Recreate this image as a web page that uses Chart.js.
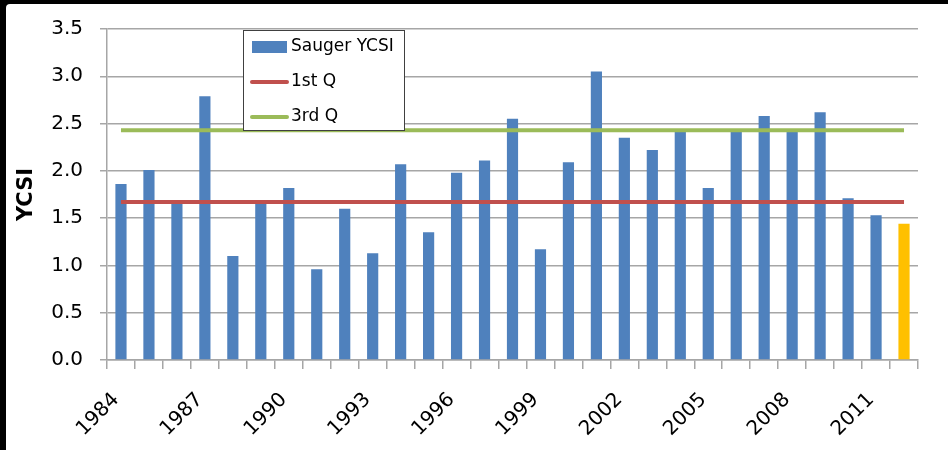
<!DOCTYPE html>
<html>
<head>
<meta charset="utf-8">
<script src="https://cdn.jsdelivr.net/npm/chart.js@4"></script>
<style>
  html, body { margin: 0; padding: 0; background: #000; }
  #wrap { position: relative; width: 948px; height: 450px; overflow: hidden; }
  #panel { position: absolute; left: 6px; top: 4px; right: 0; bottom: 0; background: #fff; border-top-left-radius: 4px; }
  #chart { position: absolute; left: 0; top: 0; }
</style>
</head>
<body>
<div id="wrap">
  <div id="panel"></div>
  <canvas id="chart" width="948" height="450"></canvas>
</div>
<script>
const years = ["1984","1985","1986","1987","1988","1989","1990","1991","1992","1993",
               "1994","1995","1996","1997","1998","1999","2000","2001","2002","2003",
               "2004","2005","2006","2007","2008","2009","2010","2011","2012"];
const ycsi = [1.86, 2.01, 1.66, 2.79, 1.10, 1.66, 1.82, 0.96, 1.60, 1.13,
              2.07, 1.35, 1.98, 2.11, 2.55, 1.17, 2.09, 3.05, 2.35, 2.22,
              2.41, 1.82, 2.41, 2.58, 2.41, 2.62, 1.71, 1.53, 1.44];
const firstQ = [{ x: "1984", y: 1.67 }, { x: "2012", y: 1.67 }];
const thirdQ = [{ x: "1984", y: 2.43 }, { x: "2012", y: 2.43 }];
const yTicks = [0, 0.5, 1.0, 1.5, 2.0, 2.5, 3.0, 3.5];

const BLUE = "#4F81BD", ORANGE = "#FFC000", RED = "#C0504D", GREEN = "#9BBB59";
const barColors = ycsi.map((v, i) => i === ycsi.length - 1 ? ORANGE : BLUE);

Chart.defaults.font.family = "'DejaVu Sans', sans-serif";
Chart.defaults.color = "#000";

// legend box drawn inside the plot, like the original
const boxLegend = {
    id: "boxLegend",
    afterDraw(chart) {
        const ctx = chart.ctx;
        ctx.save();
        ctx.fillStyle = "#fff";
        ctx.fillRect(243, 30, 162, 101);
        ctx.strokeStyle = "#404040";
        ctx.lineWidth = 1;
        ctx.strokeRect(243.5, 30.5, 161, 100);

        const items = chart.data.datasets.map(ds => ds.label);
        ctx.font = "17px 'DejaVu Sans'";
        ctx.textBaseline = "middle";

        ctx.fillStyle = BLUE;
        ctx.fillRect(252, 41, 35, 12);
        ctx.fillStyle = "#000";
        ctx.fillText(items[0], 291, 47);

        [[RED, 82], [GREEN, 117]].forEach(([c, y], k) => {
            ctx.strokeStyle = c;
            ctx.lineWidth = 4;
            ctx.lineCap = "round";
            ctx.beginPath();
            ctx.moveTo(252, y);
            ctx.lineTo(287, y);
            ctx.stroke();
            ctx.fillText(items[k + 1], 291, y);
        });
        ctx.restore();
    }
};

new Chart(document.getElementById("chart"), {
    data: {
        labels: years,
        datasets: [
            {
                type: "bar",
                label: "Sauger YCSI",
                data: ycsi,
                backgroundColor: barColors,
                categoryPercentage: 0.8,
                barPercentage: 0.5,
                order: 2
            },
            {
                type: "line",
                label: "1st Q",
                data: firstQ,
                borderColor: RED,
                borderWidth: 4,
                pointRadius: 0,
                order: 1
            },
            {
                type: "line",
                label: "3rd Q",
                data: thirdQ,
                borderColor: GREEN,
                borderWidth: 4,
                pointRadius: 0,
                order: 1
            }
        ]
    },
    options: {
        responsive: false,
        animation: false,
        layout: { padding: { left: 0, top: 27, right: 30, bottom: 0 } },
        plugins: {
            legend: { display: false },
            tooltip: { enabled: false }
        },
        scales: {
            x: {
                type: "category",
                offset: true,
                grid: {
                    offset: true,
                    drawOnChartArea: false,
                    drawTicks: true,
                    tickLength: 9,
                    color: "#a6a6a6",
                    lineWidth: 1.5
                },
                border: { color: "#a6a6a6", width: 1.5 },
                ticks: {
                    autoSkip: false,
                    maxRotation: 45,
                    minRotation: 45,
                    padding: 19,
                    labelOffset: -5,
                    font: { size: 20 },
                    callback: (v, i) => i % 3 === 0 ? years[i] : ""
                },
                afterFit: s => { s.height = 90; }
            },
            y: {
                min: 0,
                max: 3.5,
                afterBuildTicks: s => { s.ticks = yTicks.map(v => ({ value: v })); },
                grid: {
                    color: "#a6a6a6",
                    lineWidth: 1.5,
                    tickLength: 7
                },
                border: { color: "#a6a6a6", width: 1.5 },
                ticks: {
                    padding: 17,
                    font: { size: 20 },
                    callback: v => v.toFixed(1)
                },
                title: {
                    display: true,
                    text: "YCSI",
                    font: { size: 21, weight: "bold" },
                    padding: { top: 14, bottom: 0 }
                },
                afterFit: s => { s.width = 107; }
            }
        }
    },
    plugins: [boxLegend]
});
</script>
</body>
</html>
